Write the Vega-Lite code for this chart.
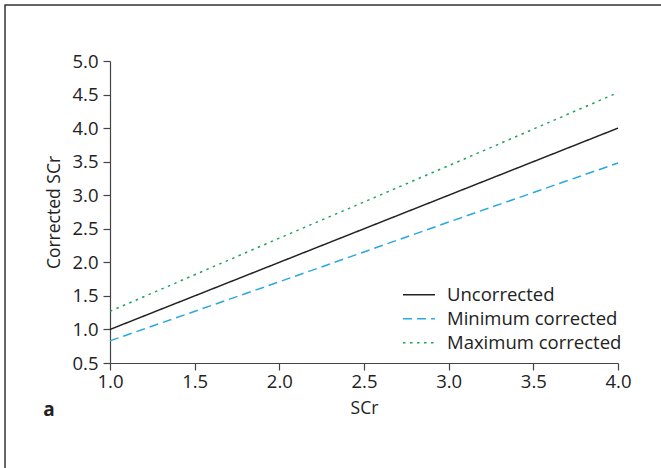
{
  "$schema": "https://vega.github.io/schema/vega-lite/v6.json",
  "width": 508,
  "height": 302,
  "autosize": {"type": "none"},
  "padding": {"left": 110, "top": 61, "right": 43, "bottom": 105},
  "background": "white",
  "config": {
    "view": {"stroke": null},
    "font": "Open Sans",
    "axis": {"grid": false, "domainColor": "#444", "tickColor": "#444", "labelColor": "#222", "titleColor": "#222", "labelFont": "Open Sans", "titleFont": "Open Sans", "labelFontSize": 18.5, "titleFontSize": 17.5, "titleFontWeight": "normal", "tickSize": 7, "domainWidth": 1.2, "tickWidth": 1.2, "labelOverlap": false, "labelFlush": false, "labelBound": false}
  },
  "resolve": {"axis": {"x": "independent", "y": "independent"}},
  "datasets": {
    "lines": [
      {"scr": 1.0, "value": 1.0, "series": "Uncorrected"},
      {"scr": 2.0, "value": 2.0, "series": "Uncorrected"},
      {"scr": 3.0, "value": 3.0, "series": "Uncorrected"},
      {"scr": 4.0, "value": 4.0, "series": "Uncorrected"},
      {"scr": 1.0, "value": 0.83, "series": "Minimum corrected"},
      {"scr": 2.0, "value": 1.71, "series": "Minimum corrected"},
      {"scr": 3.0, "value": 2.6, "series": "Minimum corrected"},
      {"scr": 4.0, "value": 3.48, "series": "Minimum corrected"},
      {"scr": 1.0, "value": 1.27, "series": "Maximum corrected"},
      {"scr": 2.0, "value": 2.36, "series": "Maximum corrected"},
      {"scr": 3.0, "value": 3.44, "series": "Maximum corrected"},
      {"scr": 4.0, "value": 4.53, "series": "Maximum corrected"}
    ],
    "frame": [{"x1": 0.38, "x2": 4.5, "y1": 5.835, "y2": -2.0}],
    "panel": [{"px": 0.64, "py": -0.2, "label": "a"}]
  },
  "layer": [
    {
      "data": {"name": "lines"},
      "mark": {"type": "line", "strokeWidth": 1.5},
      "encoding": {
        "x": {"field": "scr", "type": "quantitative", "title": "SCr",
          "scale": {"domain": [1, 4], "nice": false, "zero": false},
          "axis": {"values": [1, 1.5, 2, 2.5, 3, 3.5, 4], "format": ".1f", "labelFontSize": 18.5, "labelPadding": 2, "titlePadding": 9, "labelOverlap": false}},
        "y": {"field": "value", "type": "quantitative", "title": "Corrected SCr",
          "scale": {"domain": [0.5, 5], "nice": false, "zero": false},
          "axis": {"values": [0.5, 1, 1.5, 2, 2.5, 3, 3.5, 4, 4.5, 5], "format": ".1f", "labelFontSize": 18.5, "labelPadding": 5, "titlePadding": 8, "labelOverlap": false, "tickCount": 10}},
        "color": {"field": "series", "type": "nominal",
          "scale": {"domain": ["Uncorrected", "Minimum corrected", "Maximum corrected"], "range": ["#222222", "#29a8e0", "#1aa460"]},
          "legend": {"title": null, "orient": "none", "legendX": 292, "legendY": 222, "symbolType": "stroke", "symbolSize": 1024, "symbolStrokeWidth": 1.5, "labelFontSize": 18.5, "labelFont": "Open Sans", "labelColor": "#222", "labelLimit": 400, "rowPadding": 0, "clipHeight": 23.5, "labelOffset": 11}},
        "strokeDash": {"field": "series", "type": "nominal",
          "scale": {"domain": ["Uncorrected", "Minimum corrected", "Maximum corrected"], "range": [[1, 0], [9, 5], [2.5, 4.5]]},
          "legend": null}
      }
    },
    {
      "data": {"name": "frame"},
      "mark": {"type": "rect", "fill": null, "stroke": "#333", "strokeWidth": 1.5, "clip": false},
      "encoding": {
        "x": {"field": "x1", "type": "quantitative", "axis": null},
        "x2": {"field": "x2"},
        "y": {"field": "y1", "type": "quantitative", "axis": null},
        "y2": {"field": "y2"}
      }
    },
    {
      "data": {"name": "panel"},
      "mark": {"type": "text", "fontSize": 19, "fontWeight": "bold", "font": "Open Sans", "color": "#222", "align": "center", "baseline": "middle", "clip": false},
      "encoding": {
        "x": {"field": "px", "type": "quantitative", "axis": null},
        "y": {"field": "py", "type": "quantitative", "axis": null},
        "text": {"field": "label"}
      }
    }
  ]
}
